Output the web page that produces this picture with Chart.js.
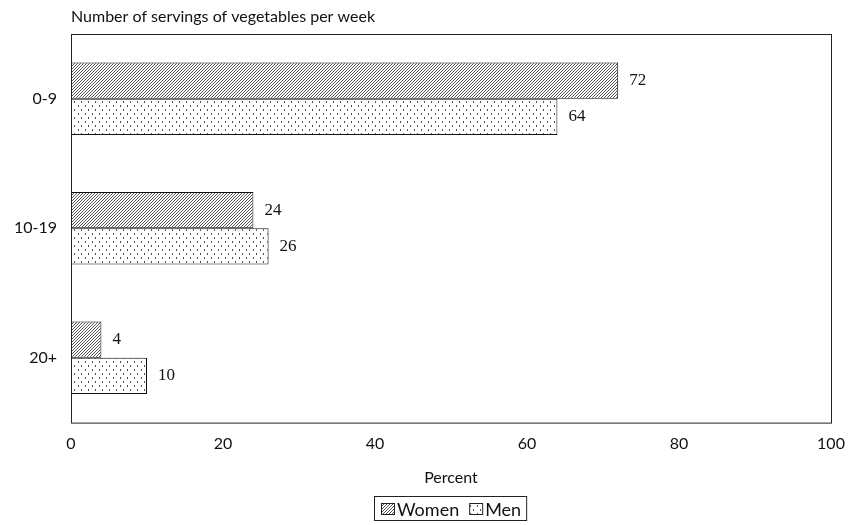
<!DOCTYPE html>
<html>
<head>
<meta charset="utf-8">
<script src="https://cdn.jsdelivr.net/npm/chart.js@4"></script>
<style>
  html, body { margin: 0; background: #fff; }
  #wrap { width: 848px; height: 525px; }
</style>
</head>
<body>
<div id="wrap"><canvas id="chart"></canvas></div>
<script>
const categories = ['0-9', '10-19', '20+'];
const women = [72, 24, 4];
const men = [64, 26, 10];
const xMin = 0;
const xMax = 100;
const xStep = 20;
const chartTitle = 'Number of servings of vegetables per week';
const axisTitle = 'Percent';

const FONT = 'Lato, "Open Sans", sans-serif';
const NUM_FONT = '"Liberation Serif", "DejaVu Serif", serif';

// hatched fill for women
function hatchPattern() {
  const c = document.createElement('canvas');
  c.width = 3; c.height = 3;
  const g = c.getContext('2d');
  g.fillStyle = '#fff';
  g.fillRect(0, 0, 3, 3);
  g.strokeStyle = '#555';
  g.lineWidth = 1;
  g.beginPath();
  g.moveTo(-1, 4); g.lineTo(4, -1);
  g.stroke();
  return g.createPattern(c, 'repeat');
}

// dotted fill for men
function dotPattern() {
  const c = document.createElement('canvas');
  c.width = 7; c.height = 8;
  const g = c.getContext('2d');
  g.fillStyle = '#fff';
  g.fillRect(0, 0, 7, 8);
  g.fillStyle = '#555';
  g.fillRect(1, 1, 1, 2);
  g.fillRect(4, 5, 1, 2);
  return g.createPattern(c, 'repeat');
}

const frameAndLabels = {
  id: 'frameAndLabels',
  afterDatasetsDraw(chart) {
    const { ctx, chartArea } = chart;
    ctx.save();
    // plot frame
    ctx.strokeStyle = '#222';
    ctx.lineWidth = 1;
    ctx.strokeRect(chartArea.left + 0.5, chartArea.top + 0.5,
      chartArea.right - chartArea.left, chartArea.bottom - chartArea.top);
    // value labels
    ctx.fillStyle = '#111';
    ctx.font = '17px ' + NUM_FONT;
    ctx.textBaseline = 'middle';
    ctx.textAlign = 'left';
    chart.data.datasets.forEach((ds, i) => {
      chart.getDatasetMeta(i).data.forEach((bar, j) => {
        ctx.fillText(ds.data[j], bar.x + 11, bar.y);
      });
    });
    // title above the plot, left aligned with it
    ctx.font = '16px ' + FONT;
    ctx.fillText(chartTitle, chartArea.left, chartArea.top - 17);
    ctx.restore();
  },
  afterDraw(chart) {
    // boxed legend, centred under the plot
    const { ctx, chartArea } = chart;
    const sets = chart.data.datasets;
    ctx.save();
    ctx.font = '18px ' + FONT;
    ctx.textBaseline = 'middle';
    ctx.textAlign = 'left';
    const sw = 14, sh = 12, gap = 2, between = 10;
    const widths = sets.map(ds => sw + gap + ctx.measureText(ds.label).width);
    const total = widths.reduce((a, b) => a + b, 0) + between * (sets.length - 1);
    const cy = chart.height - 16;
    let x = Math.round((chartArea.left + chartArea.right) / 2 - total / 2);
    ctx.strokeStyle = '#222';
    ctx.lineWidth = 1;
    ctx.strokeRect(x - 6.5, cy - 12.5, total + 12, 24);
    sets.forEach((ds, i) => {
      ctx.fillStyle = ds.backgroundColor;
      ctx.fillRect(x, cy - sh / 2, sw, sh);
      ctx.strokeRect(x + 0.5, Math.round(cy - sh / 2) + 0.5, sw - 1, sh - 1);
      ctx.fillStyle = '#111';
      ctx.fillText(ds.label, x + sw + gap, cy + 1);
      x += widths[i] + between;
    });
    ctx.restore();
  }
};

new Chart(document.getElementById('chart'), {
  type: 'bar',
  data: {
    labels: categories,
    datasets: [
      {
        label: 'Women',
        data: women,
        backgroundColor: hatchPattern(),
        borderColor: '#111',
        borderWidth: 1,
        borderSkipped: false,
        barPercentage: 1,
        categoryPercentage: 0.56
      },
      {
        label: 'Men',
        data: men,
        backgroundColor: dotPattern(),
        borderColor: '#111',
        borderWidth: 1,
        borderSkipped: false,
        barPercentage: 1,
        categoryPercentage: 0.56
      }
    ]
  },
  options: {
    indexAxis: 'y',
    responsive: true,
    maintainAspectRatio: false,
    animation: false,
    layout: { padding: { left: 0, right: 0, top: 34, bottom: 38 } },
    scales: {
      x: {
        min: xMin,
        max: xMax,
        afterFit(scale) { scale.paddingRight = 17; scale.paddingLeft = 0; },
        ticks: { stepSize: xStep, padding: 12, color: '#111', font: { family: FONT, size: 16 } },
        grid: { display: false, drawTicks: false },
        border: { display: false },
        title: { display: true, text: axisTitle, color: '#111', padding: { top: 2, bottom: 0 },
          font: { family: FONT, size: 16 } }
      },
      y: {
        afterFit(scale) { scale.width = 71; },
        ticks: { padding: 14, color: '#111', font: { family: FONT, size: 16 } },
        grid: { display: false, drawTicks: false },
        border: { display: false }
      }
    },
    plugins: {
      title: { display: false },
      tooltip: { enabled: false },
      legend: { display: false }
    }
  },
  plugins: [frameAndLabels]
});
</script>
</body>
</html>
